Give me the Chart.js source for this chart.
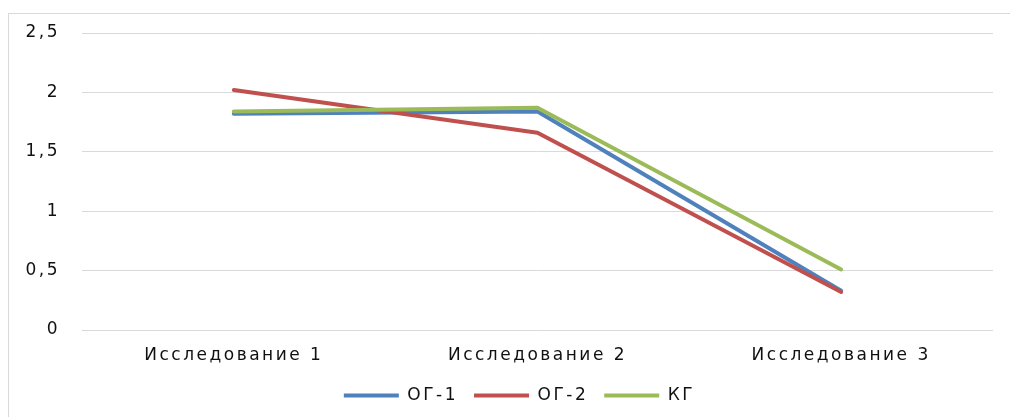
<!DOCTYPE html>
<html>
<head>
<meta charset="utf-8">
<script src="https://cdn.jsdelivr.net/npm/chart.js@4/dist/chart.umd.min.js"></script>
<style>
    html, body { margin: 0; padding: 0; background: #fff; overflow: hidden; }
    #frame {
        position: absolute; left: 8px; top: 13px;
        width: 1100px; height: 500px;
        border: 1px solid #d9d9d9;
    }
    #wrap { position: absolute; left: 0; top: 0; width: 1010px; height: 417px; }
</style>
</head>
<body>
<div id="frame"></div>
<div id="wrap"><canvas id="chart"></canvas></div>
<script>
// Chart data
const categories = ['Исследование 1', 'Исследование 2', 'Исследование 3'];
const og1 = [1.82, 1.84, 0.33];
const og2 = [2.02, 1.66, 0.32];
const kg = [1.84, 1.87, 0.51];
const yTicks = [0, 0.5, 1, 1.5, 2, 2.5];

const FONT = { family: '"DejaVu Sans", Verdana, sans-serif', size: 17 };
const TEXT = '#111';

// stretched text look of the original
const spacing = {
    id: 'spacing',
    beforeUpdate(c) { c.ctx.letterSpacing = '2.5px'; },
    beforeDraw(c) { c.ctx.letterSpacing = '2.5px'; }
};

// legend sits a bit right of the canvas centre in the original
const legendShift = {
    id: 'legendShift',
    afterLayout(c) {
        c.legend.left += 23;
        c.legend.right += 23;
    }
};

function line(label, data, color, order) {
    return {
        label: label,
        data: data,
        borderColor: color,
        backgroundColor: color,
        borderWidth: 4,
        borderCapStyle: 'round',
        borderJoinStyle: 'round',
        pointRadius: 0,
        tension: 0,
        order: order
    };
}

new Chart(document.getElementById('chart'), {
    type: 'line',
    data: {
        labels: categories,
        datasets: [
            line('ОГ-1', og1, '#4F81BD', 3),
            line('ОГ-2', og2, '#C0504D', 2),
            line('КГ', kg, '#9BBB59', 1)
        ]
    },
    options: {
        responsive: true,
        maintainAspectRatio: false,
        animation: false,
        layout: { padding: { left: 0, right: 17, top: 33, bottom: 3 } },
        plugins: {
            tooltip: { enabled: false },
            legend: {
                position: 'bottom',
                labels: {
                    usePointStyle: true,
                    pointStyle: 'line',
                    pointStyleWidth: 55,
                    boxHeight: 17,
                    padding: 16,
                    color: TEXT,
                    font: FONT,
                    sort: (a, b) => a.datasetIndex - b.datasetIndex
                }
            }
        },
        scales: {
            x: {
                offset: true,
                grid: { display: false, drawTicks: false },
                border: { display: false },
                ticks: { color: TEXT, font: FONT, padding: 15, maxRotation: 0 },
                afterFit: (s) => { s.height = 41; }
            },
            y: {
                min: 0,
                max: 2.5,
                afterBuildTicks: (s) => { s.ticks = yTicks.map(v => ({ value: v })); },
                grid: { color: '#d9d9d9', lineWidth: 1, drawTicks: false },
                border: { display: false },
                ticks: {
                    color: TEXT,
                    font: FONT,
                    padding: 22,
                    callback: (v) => String(v).replace('.', ',')
                },
                afterFit: (s) => { s.width = 82; }
            }
        }
    },
    plugins: [spacing, legendShift]
});
</script>
</body>
</html>
